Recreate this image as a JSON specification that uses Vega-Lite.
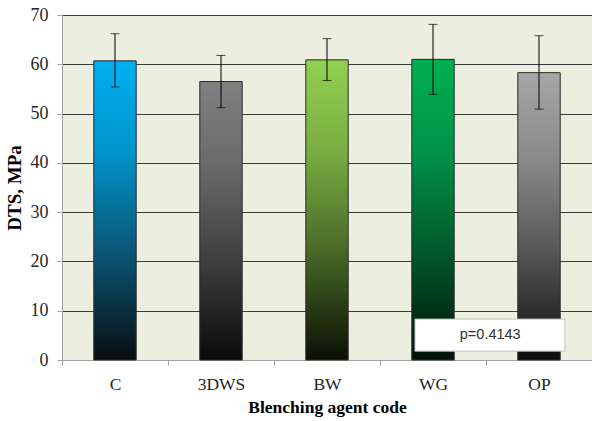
{
  "$schema": "https://vega.github.io/schema/vega-lite/v6.json",
  "autosize": "none",
  "width": 530,
  "height": 345,
  "padding": {"left": 62, "top": 15, "right": 0, "bottom": 61},
  "background": "white",
  "view": {"fill": "#ECEFE0", "stroke": null},
  "data": {"values": [
    {"cat": "C", "mean": 60.7, "lo": 55.4, "hi": 66.2},
    {"cat": "3DWS", "mean": 56.5, "lo": 51.2, "hi": 61.8},
    {"cat": "BW", "mean": 60.9, "lo": 56.7, "hi": 65.2},
    {"cat": "WG", "mean": 61.0, "lo": 53.9, "hi": 68.1},
    {"cat": "OP", "mean": 58.3, "lo": 50.9, "hi": 65.8}
  ]},
  "encoding": {
    "x": {"field": "cat", "type": "nominal", "sort": null,
      "scale": {"paddingInner": 0, "paddingOuter": 0},
      "axis": {"title": "Blenching  agent code", "labelAngle": 0, "tickBand": "extent",
        "labelFont": "Liberation Serif", "labelFontSize": 17.5, "labelColor": "#262626", "labelPadding": 10,
        "titleFont": "Liberation Serif", "titleFontSize": 17.5, "titleFontWeight": "bold", "titleColor": "#000", "titlePadding": 6,
        "domainColor": "#A0A0A0", "tickColor": "#A0A0A0", "tickSize": 5, "grid": false}}
  },
  "layer": [
    {
      "mark": {"type": "bar", "width": {"band": 0.4}, "stroke": "#2a2a2a", "strokeWidth": 1},
      "encoding": {
        "y": {"field": "mean", "type": "quantitative",
          "scale": {"domain": [0, 70], "nice": false},
          "axis": {"title": "DTS, MPa", "values": [0, 10, 20, 30, 40, 50, 60, 70],
            "labelFont": "Liberation Serif", "labelFontSize": 18, "labelColor": "#262626", "labelPadding": 9,
            "titleFont": "Liberation Serif", "titleFontSize": 19, "titleFontWeight": "bold", "titleColor": "#000", "titlePadding": 6,
            "domainColor": "#A0A0A0", "tickColor": "#A0A0A0", "tickSize": 5,
            "grid": true, "gridColor": "#3a3a3a", "gridWidth": 1}},
        "fill": {
          "condition": [
            {"test": "datum.cat === 'C'", "value": {"gradient": "linear", "x1": 0, "y1": 0, "x2": 0, "y2": 1,
              "stops": [{"offset": 0, "color": "#00B0F0"}, {"offset": 0.3, "color": "#0095CB"}, {"offset": 0.63, "color": "#0A5878"}, {"offset": 1, "color": "#080E12"}]}},
            {"test": "datum.cat === '3DWS'", "value": {"gradient": "linear", "x1": 0, "y1": 0, "x2": 0, "y2": 1,
              "stops": [{"offset": 0, "color": "#808080"}, {"offset": 0.3, "color": "#6A6A6A"}, {"offset": 0.63, "color": "#404040"}, {"offset": 1, "color": "#0A0A0A"}]}},
            {"test": "datum.cat === 'BW'", "value": {"gradient": "linear", "x1": 0, "y1": 0, "x2": 0, "y2": 1,
              "stops": [{"offset": 0, "color": "#92D050"}, {"offset": 0.3, "color": "#7AAE42"}, {"offset": 0.63, "color": "#4A6A28"}, {"offset": 1, "color": "#0B1005"}]}},
            {"test": "datum.cat === 'WG'", "value": {"gradient": "linear", "x1": 0, "y1": 0, "x2": 0, "y2": 1,
              "stops": [{"offset": 0, "color": "#00B050"}, {"offset": 0.3, "color": "#00934A"}, {"offset": 0.63, "color": "#005A2C"}, {"offset": 1, "color": "#001208"}]}}
          ],
          "value": {"gradient": "linear", "x1": 0, "y1": 0, "x2": 0, "y2": 1,
            "stops": [{"offset": 0, "color": "#A6A6A6"}, {"offset": 0.3, "color": "#8A8A8A"}, {"offset": 0.63, "color": "#555555"}, {"offset": 1, "color": "#0D0D0D"}]}
        }
      }
    },
    {
      "mark": {"type": "rule", "color": "#000", "strokeWidth": 1},
      "encoding": {
        "y": {"field": "lo", "type": "quantitative"},
        "y2": {"field": "hi"}
      }
    },
    {
      "mark": {"type": "tick", "orient": "horizontal", "color": "#000", "size": 9, "thickness": 1},
      "encoding": {"y": {"field": "lo", "type": "quantitative"}}
    },
    {
      "mark": {"type": "tick", "orient": "horizontal", "color": "#000", "size": 9, "thickness": 1},
      "encoding": {"y": {"field": "hi", "type": "quantitative"}}
    },
    {
      "data": {"values": [{"x1": "WG", "x2": "OP", "ylo": 1.8, "yhi": 8.3, "label": "p=0.4143", "ym": 5.0}]},
      "layer": [
        {
          "mark": {"type": "rect", "fill": "white", "stroke": "#BFBFBF", "strokeWidth": 1},
          "encoding": {
            "x": {"field": "x1", "type": "nominal", "bandPosition": 0.33},
            "x2": {"field": "x2", "bandPosition": 0.745},
            "y": {"field": "ylo", "type": "quantitative"},
            "y2": {"field": "yhi"}
          }
        },
        {
          "mark": {"type": "text", "font": "Liberation Sans", "fontSize": 14.5, "color": "#333", "align": "center", "baseline": "middle"},
          "encoding": {
            "x": {"field": "x2", "type": "nominal", "bandPosition": 0.04},
            "y": {"field": "ym", "type": "quantitative"},
            "text": {"field": "label"}
          }
        }
      ]
    }
  ]
}
